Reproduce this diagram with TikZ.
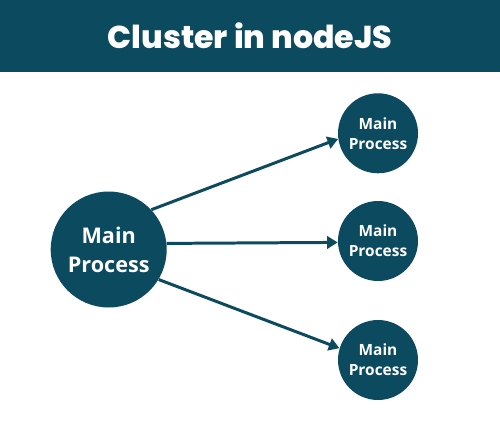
\documentclass[tikz,border=0pt]{standalone}
\usepackage{fontspec}
\usetikzlibrary{arrows.meta}
\newfontfamily\titlefont{Poppins ExtraBold}
\newfontfamily\bodyfont{Open Sans}
\definecolor{teal}{HTML}{0C4A60}
\begin{document}
\begin{tikzpicture}[
		proc/.style={circle, fill=teal, text=white, align=center, inner sep=0pt, font=\bodyfont\bfseries},
		bigproc/.style={proc, minimum size=2.32cm, font=\bodyfont\bfseries\fontsize{12.3}{16.4}\selectfont},
		smallproc/.style={proc, minimum size=1.6cm, font=\bodyfont\bfseries\fontsize{8.8}{11.4}\selectfont},
		link/.style={draw=teal, line width=1.7pt, -{Triangle[length=6pt,width=7pt]}}
	]
		\useasboundingbox (0, 0) rectangle (10, 8.92);
		\fill[teal] (0, 7.48) rectangle (10, 8.92);
		\node[text=white, font=\titlefont\fontsize{18}{20}\selectfont] (title) at (5, 8.2) {Cluster in nodeJS};

		\node[bigproc] (main) at (2.174, 3.93) {Main\\Process};
		\node[smallproc] (w1) at (7.56, 6.254) {Main\\Process};
		\node[smallproc] (w2) at (7.56, 4.10) {Main\\Process};
		\node[smallproc] (w3) at (7.56, 1.72) {Main\\Process};

		\draw[link] (main.43.6) -- (w1.188.6);
		\draw[link] (main.6.7) -- (w2.182);
		\draw[link] (main.329.3) -- (w3.163.7);
	\end{tikzpicture}
\end{document}
